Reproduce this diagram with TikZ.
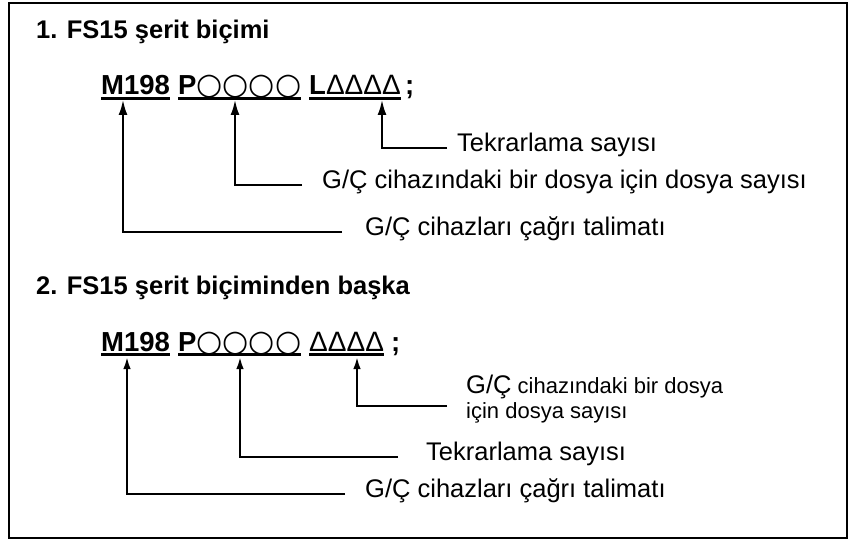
\documentclass[tikz,border=0pt]{standalone}
\usepackage{fontspec}
\setmainfont{Liberation Sans}
\newfontfamily\symfont{DejaVu Sans}
\usetikzlibrary{arrows.meta}
\newcommand\circs{{\symfont\mdseries\fontsize{30}{30}\selectfont ○○○○}}
\newcommand\tris{{\mdseries\fontsize{28}{30}\selectfont ΔΔΔΔ}}
\begin{document}
\begin{tikzpicture}[x=1pt,y=-1pt,
  head/.style={anchor=west,inner sep=0pt,font=\fontsize{25.5}{28}\selectfont\bfseries},
  tok/.style={anchor=base west,inner sep=0pt,font=\fontsize{27.5}{30}\selectfont\bfseries},
  lab/.style={anchor=west,inner sep=0pt,text height=0.72em,text depth=0pt,font=\fontsize{25.5}{28}\selectfont},
  ul/.style={line width=3pt},
  arr/.style={line width=2pt,-{Latex[length=15pt,width=9pt]}},
  arrb/.style={line width=2pt,-{Latex[length=12pt,width=7.5pt]}}]
\useasboundingbox (0,0) rectangle (851,540);
\draw[line width=1.5pt] (9,3) rectangle (847,538);
% headings
\node[head] (h1) at (36,32) {1. FS15 şerit biçimi};
\node[head] (h2) at (36,288) {2. FS15 şerit biçiminden başka};
% line 1 tokens
\node[tok] (m1) at (101,95) {M198};
\node[tok] (p1) at (178,95) {P\circs};
\node[tok] (l1) at (309,95) {L\tris};
\node[tok] (s1) at (405,95) {;};
\foreach \n in {m1,p1,l1}
  \draw[ul] ([yshift=-3.5pt]\n.base west) -- ([yshift=-3.5pt]\n.base east);
% line 2 tokens
\node[tok] (m2) at (101,351) {M198};
\node[tok] (p2) at (178,351) {P\circs};
\node[tok] (d2) at (309,351) {\tris};
\node[tok] (s2) at (391,351) {;};
\foreach \n in {m2,p2,d2}
  \draw[ul] ([yshift=-3.5pt]\n.base west) -- ([yshift=-3.5pt]\n.base east);
% labels line 1
\node[lab] (t1) at (457,148) {Tekrarlama sayısı};
\node[lab] (t2) at (322,185) {G/Ç cihazındaki bir dosya için dosya sayısı};
\node[lab] (t3) at (365,232) {G/Ç cihazları çağrı talimatı};
% arrow tips line 1
\coordinate (a1) at (382,100);
\coordinate (a2) at (235,100);
\coordinate (a3) at (123,100);
\draw[arr] ([xshift=-10pt]t1.west) -| (a1);
\draw[arr] ([xshift=-20pt]t2.west) -| (a2);
\draw[arr] ([xshift=-23pt]t3.west) -| (a3);
% labels line 2
\node[anchor=north west,inner sep=0pt,align=left,font=\fontsize{22}{25}\selectfont] (u1) at (466,375)
  {{\fontsize{25.5}{25}\selectfont G/Ç} cihazındaki bir dosya\\için dosya sayısı};
\node[lab] (u2) at (426,457) {Tekrarlama sayısı};
\node[lab] (u3) at (365,494) {G/Ç cihazları çağrı talimatı};
\coordinate (b1) at (357,357);
\coordinate (b2) at (240,357);
\coordinate (b3) at (127,357);
\coordinate (c1) at (447,406);
\draw[arrb] (c1) -| (b1);
\draw[arrb] ([xshift=-28pt]u2.west) -| (b2);
\draw[arrb] ([xshift=-20pt]u3.west) -| (b3);
\end{tikzpicture}
\end{document}
